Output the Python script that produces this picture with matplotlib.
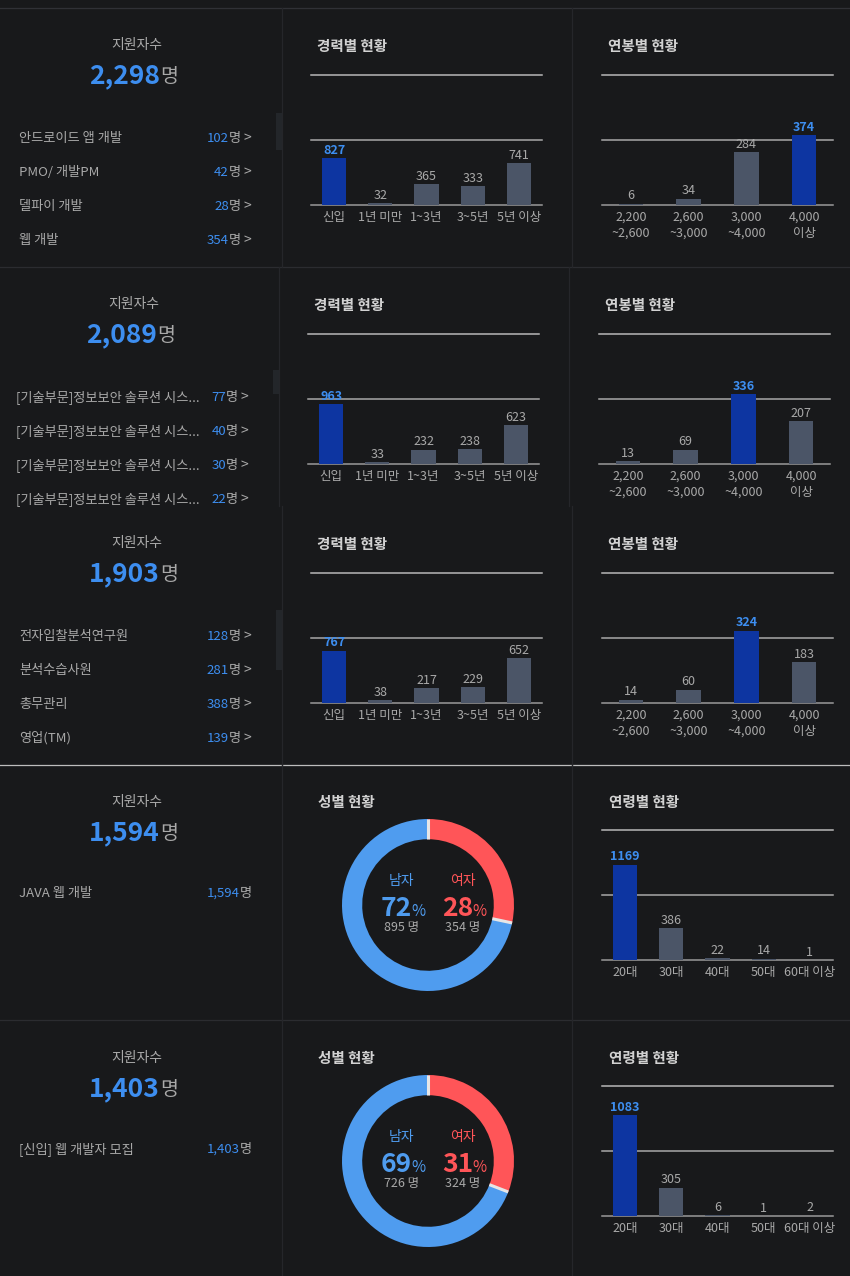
"""Applicant dashboard: five postings with career, salary, gender and age breakdowns."""

import math
import matplotlib
matplotlib.use('Agg')
import matplotlib.pyplot as plt
from matplotlib.patches import Rectangle

plt.rcParams['font.family'] = ['Noto Sans CJK KR', 'DejaVu Sans']

BG = '#18191b'
GRAY = '#a9a9a9'
TITLE = '#d2d2d2'
BLUE_TXT = '#3d8ef0'
BAR_HI = '#0d35a1'
BAR = '#4b5567'
MALE = '#4f9cef'
FEMALE = '#ff5558'
GRID = '#b8b8b8'
LINE = '#2b2c30'

W, H = 850, 1276

# Data
totals = [2298, 2089, 1903, 1594, 1403]

career_labels = ['신입', '1년 미만', '1~3년', '3~5년', '5년 이상']
salary_labels = ['2,200\n~2,600', '2,600\n~3,000', '3,000\n~4,000', '4,000\n이상']
age_labels = ['20대', '30대', '40대', '50대', '60대 이상']

career_1 = [827, 32, 365, 333, 741]
career_2 = [963, 33, 232, 238, 623]
career_3 = [767, 38, 217, 229, 652]

salary_1 = [6, 34, 284, 374]
salary_2 = [13, 69, 336, 207]
salary_3 = [14, 60, 324, 183]

age_4 = [1169, 386, 22, 14, 1]
age_5 = [1083, 305, 6, 1, 2]

gender_4 = [895, 354]   # male, female
gender_5 = [726, 324]

jobs_1 = ['안드로이드 앱 개발', 'PMO/ 개발PM', '델파이 개발', '웹 개발']
job_counts_1 = [102, 42, 28, 354]
jobs_2 = ['[기술부문]정보보안 솔루션 시스...'] * 4
job_counts_2 = [77, 40, 30, 22]
jobs_3 = ['전자입찰분석연구원', '분석수습사원', '총무관리', '영업(TM)']
job_counts_3 = [128, 281, 388, 139]
jobs_4 = ['JAVA 웹 개발']
job_counts_4 = [1594]
jobs_5 = ['[신입] 웹 개발자 모집']
job_counts_5 = [1403]

row_top = [8, 267, 506, 765, 1021]
row_dx = [0, -3, 0, 0, 0]


fig = plt.figure(figsize=(W / 100, H / 100), dpi=100, facecolor=BG)
bg = fig.add_axes([0, 0, 1, 1])
bg.set_xlim(0, W)
bg.set_ylim(H, 0)
bg.axis('off')


def px_axes(x0, y0, x1, y1):
    return fig.add_axes([x0 / W, 1 - y1 / H, (x1 - x0) / W, (y1 - y0) / H])


def draw_bars(x0, y0, x1, y1, labels, values, width):
    ax = px_axes(x0, y0, x1, y1)
    ax.set_facecolor('none')
    n = len(values)
    top = sum(values)
    hi = values.index(max(values))
    colors = [BAR_HI if i == hi else BAR for i in range(n)]
    ax.bar(range(n), values, width, color=colors, zorder=2)
    ax.set_xlim(-0.5, n - 0.5)
    ax.set_ylim(0, top)
    for y, c in [(top, GRID), (top / 2, '#a8a8a8'), (0, '#9a9a9a')]:
        ax.axhline(y, color=c, lw=1.1, clip_on=False, zorder=1)
    for i, v in enumerate(values):
        ax.annotate(str(v), (i, v), xytext=(0, 1), textcoords='offset points',
                    ha='center', va='bottom', fontsize=9,
                    color=BLUE_TXT if i == hi else GRAY,
                    fontweight='bold' if i == hi else 'normal', zorder=3)
    ax.set_xticks(range(n), labels)
    ax.set_yticks([])
    ax.tick_params(axis='x', length=0, pad=4, colors=GRAY, labelsize=9)
    for lab in ax.get_xticklabels():
        lab.set_linespacing(1.3)
    for s in ax.spines.values():
        s.set_visible(False)


def draw_donut(cx, cy, male, female):
    r = 86
    ax = px_axes(cx - r, cy - r, cx + r, cy + r)
    ax.pie([female, male], colors=[FEMALE, MALE], startangle=90,
           counterclock=False, radius=1,
           wedgeprops=dict(width=0.235, linewidth=0))
    ax.set_xlim(-1, 1)
    ax.set_ylim(-1, 1)
    ax.set_aspect('equal')
    for ang in [90, 90 - 360 * female / (male + female)]:
        a = math.radians(ang)
        ax.plot([0.765 * math.cos(a), 1.0 * math.cos(a)],
                [0.765 * math.sin(a), 1.0 * math.sin(a)],
                color='#e6e6e6', lw=2.2, solid_capstyle='butt')
    pm = round(male / (male + female) * 100)
    pf = 100 - pm
    bg.text(cx - 26, cy - 24, '남자', color=MALE, fontsize=10, ha='center', va='center')
    bg.text(cx - 16, cy + 11, str(pm), color=MALE, fontsize=19, fontweight='bold',
            ha='right', va='baseline')
    bg.text(cx - 17, cy + 11, '%', color=MALE, fontsize=11, ha='left', va='baseline')
    bg.text(cx - 26, cy + 23, f'{male} 명', color=GRAY, fontsize=9, ha='center', va='center')
    bg.text(cx + 35, cy - 24, '여자', color=FEMALE, fontsize=10, ha='center', va='center')
    bg.text(cx + 45, cy + 11, str(pf), color=FEMALE, fontsize=19, fontweight='bold',
            ha='right', va='baseline')
    bg.text(cx + 44, cy + 11, '%', color=FEMALE, fontsize=11, ha='left', va='baseline')
    bg.text(cx + 35, cy + 23, f'{female} 명', color=GRAY, fontsize=9, ha='center', va='center')


def draw_left(top, dx, total, jobs, counts, chevron):
    bg.text(137 + dx, top + 37, '지원자수', color=GRAY, fontsize=10, ha='center', va='center')
    bg.text(160 + dx, top + 75, f'{total:,}', color=BLUE_TXT, fontsize=19,
            fontweight='bold', ha='right', va='baseline')
    bg.text(160 + dx, top + 74, '명', color=GRAY, fontsize=14, ha='left', va='baseline')
    y = top + (129 if chevron else 127)
    for job, c in zip(jobs, counts):
        yb = y + 5
        bg.text(19 + dx, yb, job, color=GRAY, fontsize=9.5, ha='left', va='baseline')
        xr = 229 + dx if chevron else 240 + dx
        bg.text(xr, yb, f'{c:,}', color=BLUE_TXT, fontsize=9.5, ha='right', va='baseline')
        bg.text(xr, yb, '명', color=GRAY, fontsize=9.5, ha='left', va='baseline')
        if chevron:
            bg.text(247 + dx, yb, '>', color=GRAY, fontsize=10, ha='center', va='baseline')
        y += 34


# separators
for y, c in [(8, '#303136'), (267, LINE), (765, '#bdbdbd'), (1020, LINE)]:
    bg.plot([0, W], [y, y], color=c, lw=0.9)
for i in range(5):
    t0 = row_top[i] - (0 if i != 4 else 1)
    t1 = row_top[i + 1] if i < 4 else H
    for x in (282, 572):
        bg.plot([x + row_dx[i]] * 2, [t0, t1], color='#25262a', lw=0.9)

# scrollbar thumbs
for x, y0, y1 in [(276, 113, 150), (273, 370, 394), (276, 610, 670)]:
    bg.add_patch(Rectangle((x, y0), 6, y1 - y0, color='#23262a', lw=0))

careers = [career_1, career_2, career_3]
salaries = [salary_1, salary_2, salary_3]
jobs = [jobs_1, jobs_2, jobs_3, jobs_4, jobs_5]
counts = [job_counts_1, job_counts_2, job_counts_3, job_counts_4, job_counts_5]

for i in range(3):
    t, dx = row_top[i], row_dx[i]
    draw_left(t, dx, totals[i], jobs[i], counts[i], True)
    bg.text(317 + dx, t + 38, '경력별 현황', color=TITLE, fontsize=10.5,
            fontweight='bold', ha='left', va='center')
    bg.text(608 + dx, t + 38, '연봉별 현황', color=TITLE, fontsize=10.5,
            fontweight='bold', ha='left', va='center')
    draw_bars(311 + dx, t + 67, 542 + dx, t + 197, career_labels, careers[i], 0.52)
    draw_bars(602 + dx, t + 67, 833 + dx, t + 197, salary_labels, salaries[i], 0.42)

ages = [age_4, age_5]
genders = [gender_4, gender_5]
for k, i in enumerate([3, 4]):
    t = row_top[i]
    draw_left(t, 0, totals[i], jobs[i], counts[i], False)
    bg.text(318, t + 37, '성별 현황', color=TITLE, fontsize=10.5,
            fontweight='bold', ha='left', va='center')
    bg.text(609, t + 37, '연령별 현황', color=TITLE, fontsize=10.5,
            fontweight='bold', ha='left', va='center')
    draw_bars(602, t + 65, 833, t + 195, age_labels, ages[k], 0.52)
    draw_donut(428, t + 140, genders[k][0], genders[k][1])

fig.savefig('out.png', dpi=100, facecolor=BG)
